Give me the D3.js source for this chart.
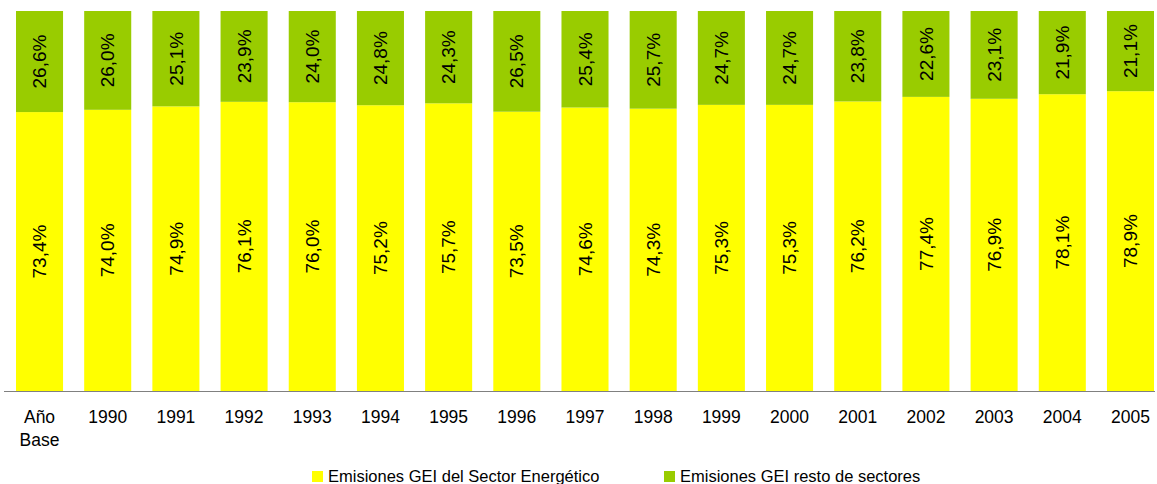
<!DOCTYPE html>
<html>
<head>
<meta charset="utf-8">
<script src="https://cdn.jsdelivr.net/npm/d3@7"></script>
<style>
  body { margin: 0; background: #fff; }
  text { font-family: "Liberation Sans", Arial, sans-serif; fill: #000; }
</style>
</head>
<body>
<div id="chart"></div>
<script>
const categories = ['Año Base', '1990', '1991', '1992', '1993', '1994', '1995', '1996', '1997', '1998', '1999', '2000', '2001', '2002', '2003', '2004', '2005']
const energia = [73.4, 74.0, 74.9, 76.1, 76.0, 75.2, 75.7, 73.5, 74.6, 74.3, 75.3, 75.3, 76.2, 77.4, 76.9, 78.1, 78.9]
const resto = [26.6, 26.0, 25.1, 23.9, 24.0, 24.8, 24.3, 26.5, 25.4, 25.7, 24.7, 24.7, 23.8, 22.6, 23.1, 21.9, 21.1]
const seriesNames = ['Emisiones GEI del Sector Energético', 'Emisiones GEI resto de sectores']
const colors = ['#FFFF00', '#99CC00']

const width = 1157, height = 484
const plotTop = 11, plotBottom = 391

const svg = d3.select('#chart').append('svg')
    .attr('width', width)
    .attr('height', height)

const x = d3.scaleBand()
    .domain(categories)
    .range([16, 1154])
    .paddingInner(0.31)
    .paddingOuter(0)

const y = d3.scaleLinear()
    .domain([0, 100])
    .range([plotBottom, plotTop])

const rows = categories.map((c, i) => ({ cat: c, energia: energia[i], resto: resto[i] }))
const stack = d3.stack().keys(['energia', 'resto'])(rows)

const fmt = v => d3.format('.1f')(v).replace('.', ',') + '%'

const groups = svg.selectAll('g.serie')
    .data(stack)
    .enter()
    .append('g')
    .attr('class', 'serie')
    .attr('fill', (d, i) => colors[i])

groups.selectAll('rect')
    .data(d => d)
    .enter()
    .append('rect')
    .attr('x', d => x(d.data.cat))
    .attr('width', x.bandwidth())
    .attr('y', d => y(d[1]))
    .attr('height', d => y(d[0]) - y(d[1]))

// etiquetas verticales
groups.selectAll('text')
    .data(d => d)
    .enter()
    .append('text')
    .attr('transform', d => {
        const cx = x(d.data.cat) + x.bandwidth() / 2
        const cy = (y(d[0]) + y(d[1])) / 2
        return 'translate(' + cx + ',' + cy + ') rotate(-90)'
    })
    .attr('text-anchor', 'middle')
    .attr('dy', '0.35em')
    .style('font-size', '19px')
    .style('fill', '#000')
    .text(d => fmt(d[1] - d[0]))

// eje
svg.append('line')
    .attr('x1', 4).attr('x2', 1155)
    .attr('y1', plotBottom + 0.5).attr('y2', plotBottom + 0.5)
    .attr('stroke', '#808080')
    .attr('stroke-width', 1.2)

svg.append('g').selectAll('text')
    .data(categories)
    .enter()
    .append('text')
    .attr('x', d => x(d) + x.bandwidth() / 2)
    .attr('y', 423)
    .attr('text-anchor', 'middle')
    .style('font-size', '17.5px')
    .each(function(d) {
        const parts = d.split(' ')
        d3.select(this).selectAll('tspan')
            .data(parts)
            .enter()
            .append('tspan')
            .attr('x', x(d) + x.bandwidth() / 2)
            .attr('dy', (p, i) => i === 0 ? 0 : 23)
            .text(p => p)
    })

// leyenda
const legendX = [312, 664]
const legend = svg.append('g').selectAll('g')
    .data(seriesNames)
    .enter()
    .append('g')
    .attr('transform', (d, i) => 'translate(' + legendX[i] + ',471)')
legend.append('rect')
    .attr('width', 11).attr('height', 11)
    .attr('fill', (d, i) => colors[i])
legend.append('text')
    .attr('x', 16).attr('y', 11)
    .style('font-size', '16.5px')
    .text(d => d)
</script>
</body>
</html>
